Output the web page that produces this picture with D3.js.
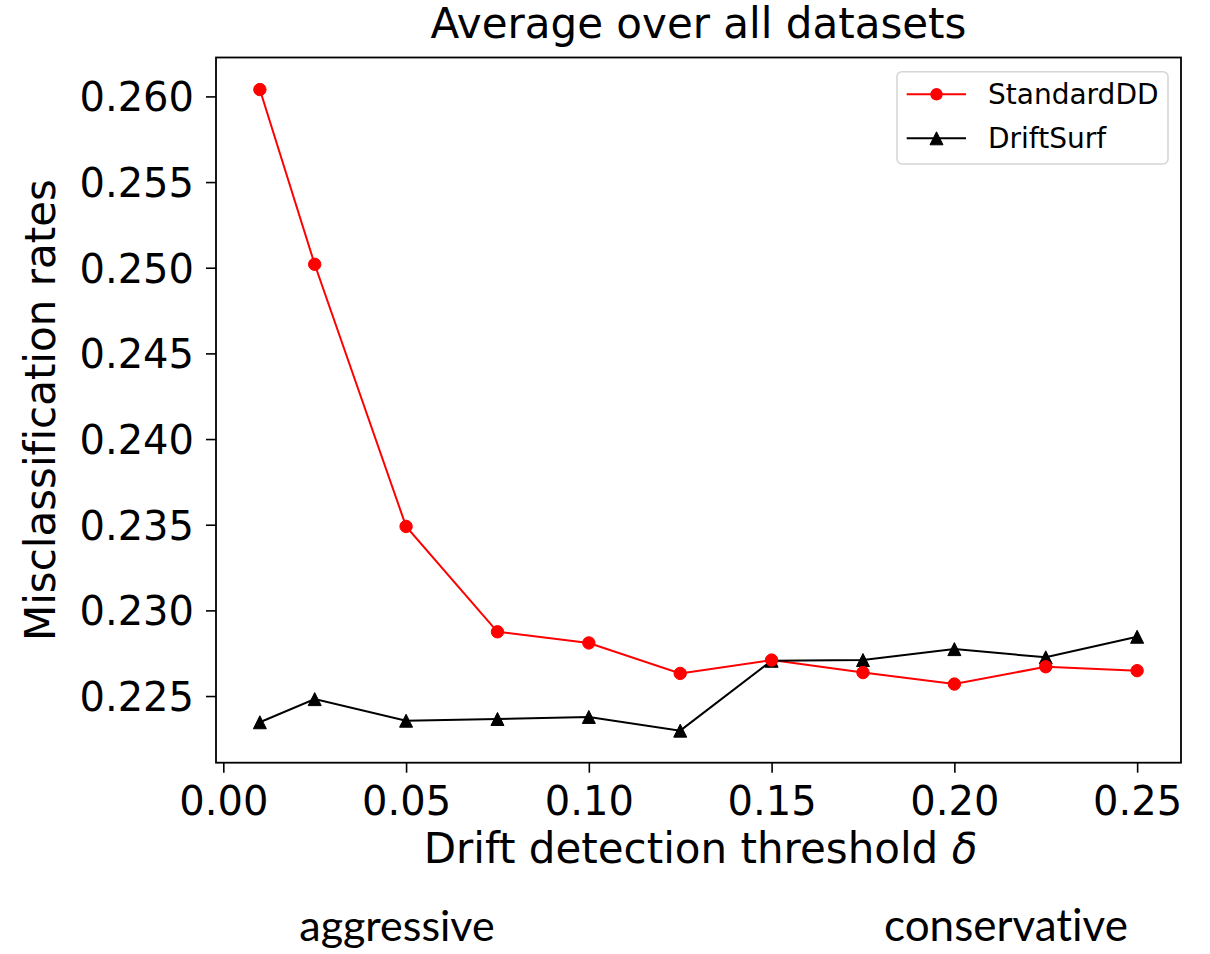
<!DOCTYPE html>
<html>
<head>
<meta charset="utf-8">
<script src="https://cdn.jsdelivr.net/npm/d3@7"></script>
<style>
  html, body { margin: 0; padding: 0; background: #ffffff; }
  svg { display: block; }
  text { font-variant-ligatures: none; font-feature-settings: "liga" 0, "clig" 0, "dlig" 0, "calt" 0; }
</style>
</head>
<body>
<svg id="chart" width="1210" height="954"></svg>
<script>
// ---- data ----
const thresholds = [0.01, 0.025, 0.05, 0.075, 0.10, 0.125, 0.15, 0.175, 0.20, 0.225, 0.25];
const standardDD = [0.2604, 0.2502, 0.2349, 0.22875, 0.2281, 0.22632, 0.2271, 0.22637, 0.2257, 0.22671, 0.22648];
const driftSurf  = [0.22347, 0.22482, 0.22356, 0.22366, 0.22378, 0.22298, 0.22706, 0.2271, 0.22774, 0.22726, 0.22846];
const xTicks = [0.00, 0.05, 0.10, 0.15, 0.20, 0.25];
const yTicks = [0.225, 0.230, 0.235, 0.240, 0.245, 0.250, 0.255, 0.260];
const seriesNames = ["StandardDD", "DriftSurf"];
const titleText = "Average over all datasets";
const xLabelText = "Drift detection threshold ";
const xLabelSymbol = "δ";
const yLabelText = "Misclassification rates";
const bottomNotes = ["aggressive", "conservative"];

// ---- layout ----
const L = 216, R = 1181, T = 57.5, B = 762.7;
const font = "'DejaVu Sans', sans-serif";
const svg = d3.select("#chart");

function padded(ext) { const m = (ext[1] - ext[0]) * 0.05; return [ext[0] - m, ext[1] + m]; }
const x = d3.scaleLinear().domain(padded(d3.extent(thresholds))).range([L, R]);
const y = d3.scaleLinear().domain(padded(d3.extent(standardDD.concat(driftSurf)))).range([B, T]);

// axes
const xAxis = d3.axisBottom(x).tickValues(xTicks).tickFormat(d3.format(".2f")).tickSizeOuter(0).tickSize(10).tickPadding(12);
const yAxis = d3.axisLeft(y).tickValues(yTicks).tickFormat(d3.format(".3f")).tickSizeOuter(0).tickSize(10).tickPadding(12);

const gx = svg.append("g").attr("transform", `translate(0,${B})`).call(xAxis);
const gy = svg.append("g").attr("transform", `translate(${L},0)`).call(yAxis);
[gx, gy].forEach(g => {
  g.select(".domain").remove();
  g.selectAll(".tick line").attr("stroke", "#000").attr("stroke-width", 1.6);
  g.selectAll(".tick text").attr("font-family", font).attr("font-size", 40).attr("fill", "#000");
});
gx.selectAll(".tick text").attr("dy", null).attr("y", 52);
gy.selectAll(".tick text").attr("dy", "0.36em");

// frame
svg.append("rect").attr("x", L).attr("y", T).attr("width", R - L).attr("height", B - T)
  .attr("fill", "none").attr("stroke", "#000").attr("stroke-width", 1.8);

// lines
const line = d3.line().x(d => x(d[0])).y(d => y(d[1]));
const sd = thresholds.map((t, i) => [t, standardDD[i]]);
const ds = thresholds.map((t, i) => [t, driftSurf[i]]);

svg.append("path").datum(sd).attr("d", line).attr("fill", "none").attr("stroke", "#ff0000").attr("stroke-width", 2);
svg.append("path").datum(ds).attr("d", line).attr("fill", "none").attr("stroke", "#000").attr("stroke-width", 2);

const triPath = "M0,-6.5L6.5,6.5L-6.5,6.5Z";
svg.append("g").selectAll("path").data(ds).join("path")
  .attr("d", triPath).attr("transform", d => `translate(${x(d[0])},${y(d[1])})`)
  .attr("fill", "#000").attr("stroke", "#000").attr("stroke-width", 1);
svg.append("g").selectAll("circle").data(sd).join("circle")
  .attr("cx", d => x(d[0])).attr("cy", d => y(d[1])).attr("r", 6.2)
  .attr("fill", "#ff0000").attr("stroke", "#ff0000").attr("stroke-width", 1);

// legend
const lg = svg.append("g");
lg.append("rect").attr("x", 897).attr("y", 71.7).attr("width", 271).attr("height", 92.3).attr("rx", 5)
  .attr("fill", "#fff").attr("fill-opacity", 0.8).attr("stroke", "#d6d6d6").attr("stroke-width", 1.6);
const rows = [{ name: seriesNames[0], color: "#ff0000", mk: "circle", cy: 94.3 },
              { name: seriesNames[1], color: "#000", mk: "tri", cy: 138.3 }];
rows.forEach(r => {
  lg.append("line").attr("x1", 906.7).attr("x2", 966).attr("y1", r.cy).attr("y2", r.cy)
    .attr("stroke", r.color).attr("stroke-width", 2);
  if (r.mk === "circle") lg.append("circle").attr("cx", 936.5).attr("cy", r.cy).attr("r", 6.2).attr("fill", r.color);
  else lg.append("path").attr("d", triPath).attr("transform", `translate(936.5,${r.cy})`).attr("fill", r.color).attr("stroke", r.color);
  lg.append("text").attr("x", 988).attr("y", r.cy).attr("dy", "0.36em")
    .attr("font-family", font).attr("font-size", 28).attr("fill", "#000").text(r.name);
});

// title & labels
svg.append("text").attr("x", (L + R) / 2).attr("y", 38).attr("text-anchor", "middle")
  .attr("font-family", font).attr("font-size", 42).attr("fill", "#000").text(titleText);
const xl = svg.append("text").attr("x", (L + R) / 2 + 2).attr("y", 863).attr("text-anchor", "middle")
  .attr("font-family", font).attr("font-size", 42).attr("fill", "#000");
xl.append("tspan").text(xLabelText);
xl.append("tspan").attr("font-style", "italic").text(xLabelSymbol);
svg.append("text").attr("transform", `translate(55,${(T + B) / 2}) rotate(-90)`).attr("text-anchor", "middle")
  .attr("font-family", font).attr("font-size", 42).attr("fill", "#000").text(yLabelText);

// notes
svg.append("text").attr("x", 397).attr("y", 941).attr("text-anchor", "middle")
  .attr("font-family", "Lato, 'Open Sans', sans-serif").attr("font-size", 43).attr("fill", "#000").text(bottomNotes[0]);
svg.append("text").attr("x", 1006).attr("y", 941).attr("text-anchor", "middle")
  .attr("font-family", "Lato, 'Open Sans', sans-serif").attr("font-size", 44).attr("fill", "#000").text(bottomNotes[1]);
</script>
</body>
</html>
